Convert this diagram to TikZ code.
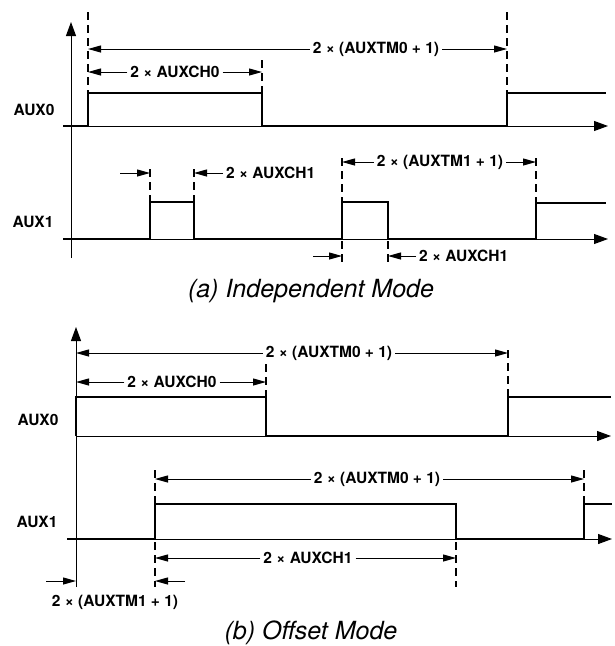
\documentclass[tikz,border=0pt]{standalone}
\usepackage{fontspec}
\setmainfont{TeX Gyre Heros}
\usetikzlibrary{arrows.meta}
\begin{document}
\begin{tikzpicture}[x=1pt,y=-1pt,
  axisln/.style={line width=1pt,-{Triangle[length=14pt,width=10pt]}},
  sig/.style={line width=2.7pt,line join=miter,line cap=butt},
  dashln/.style={line width=1.4pt,dash pattern=on 8pt off 5pt},
  dim/.style={line width=1pt,-{Triangle[length=13pt,width=7pt]}},
  lbl/.style={font=\bfseries\fontsize{15.5}{18}\selectfont,inner sep=3pt},
  signame/.style={font=\bfseries\fontsize{15.5}{18}\selectfont,inner sep=0pt},
  capt/.style={font=\itshape\fontsize{25}{30}\selectfont,inner sep=0pt}]
\useasboundingbox (0,0) rectangle (615,646);

% ================= (a) Independent Mode =================
\draw[axisln] (71,258) -- (71,22);
\draw[axisln] (63,126) -- (608,126);
\draw[axisln] (63,239) -- (608,239);

\node[signame] (aA0) at (34,110) {AUX0};
\node[signame] (aA1) at (33,222) {AUX1};

\draw[sig] (63,126) -- (88,126) -- (88,93) -- (262,93) -- (262,126) -- (507,126) -- (507,93) -- (606,93);
\draw[sig] (63,239) -- (150,239) -- (150,202) -- (194,202) -- (194,239) -- (342,239) -- (342,202) -- (388,202) -- (388,239) -- (536,239) -- (536,203) -- (606,203);

\draw[dashln] (88,12) -- (88,93);
\draw[dashln] (262,60) -- (262,93);
\draw[dashln] (507,12) -- (507,93);
\draw[dashln] (150,169) -- (150,202);
\draw[dashln] (194,169) -- (194,202);
\draw[dashln] (342,158) -- (342,202);
\draw[dashln] (536,158) -- (536,202);
\draw[dashln] (342,241) -- (342,263);
\draw[dashln] (388,241) -- (388,263);

\coordinate (aL1) at (88,49);  \coordinate (aR1) at (507,49);
\node[lbl] (aTM0) at (376,49) {2 × (AUXTM0 + 1)};
\draw[dim] (aTM0.west) -- (aL1);
\draw[dim] (aTM0.east) -- (aR1);

\coordinate (aL2) at (88,72);  \coordinate (aR2) at (262,72);
\node[lbl] (aCH0) at (175,72) {2 × AUXCH0};
\draw[dim] (aCH0.west) -- (aL2);
\draw[dim] (aCH0.east) -- (aR2);

\coordinate (aS1) at (120,173); \coordinate (aT1) at (150,173);
\draw[dim] (aS1) -- (aT1);
\coordinate (aT2) at (194,173);
\node[lbl,anchor=west] (aCH1a) at (223,173) {2 × AUXCH1};
\draw[dim] (aCH1a.west) -- (aT2);

\coordinate (aL3) at (342,162); \coordinate (aR3) at (536,162);
\node[lbl] (aTM1) at (440,162) {2 × (AUXTM1 + 1)};
\draw[dim] (aTM1.west) -- (aL3);
\draw[dim] (aTM1.east) -- (aR3);

\coordinate (aS4) at (313,256); \coordinate (aT4) at (342,256);
\draw[dim] (aS4) -- (aT4);
\coordinate (aT5) at (388,256);
\node[lbl,anchor=west] (aCH1b) at (416,256) {2 × AUXCH1};
\draw[dim] (aCH1b.west) -- (aT5);

\node[capt] (capa) at (311,291) {(a) Independent Mode};

% ================= (b) Offset Mode =================
\draw[axisln] (76,587) -- (76,327);
\draw[axisln] (76,436) -- (611,436);
\draw[axisln] (67,539) -- (612,539);

\node[signame] (bA0) at (38,420) {AUX0};
\node[signame] (bA1) at (37,522) {AUX1};

\draw[sig] (76,436) -- (76,397) -- (266,397) -- (266,436) -- (508,436) -- (508,397) -- (611,397);
\draw[sig] (67,539) -- (155,539) -- (155,504) -- (456,504) -- (456,539) -- (584,539) -- (584,504) -- (612,504);

\draw[dashln] (266,364) -- (266,397);
\draw[dashln] (508,350) -- (508,397);
\draw[dashln] (155,470) -- (155,504);
\draw[dashln] (584,470) -- (584,504);
\draw[dashln] (155,542) -- (155,587);
\draw[dashln] (456,542) -- (456,587);

\coordinate (bL1) at (76,353); \coordinate (bR1) at (508,353);
\node[lbl] (bTM0) at (329,353) {2 × (AUXTM0 + 1)};
\draw[dim] (bTM0.west) -- (bL1);
\draw[dim] (bTM0.east) -- (bR1);

\coordinate (bL2) at (76,382); \coordinate (bR2) at (266,382);
\node[lbl] (bCH0) at (172,382) {2 × AUXCH0};
\draw[dim] (bCH0.west) -- (bL2);
\draw[dim] (bCH0.east) -- (bR2);

\coordinate (bL3) at (155,479); \coordinate (bR3) at (584,479);
\node[lbl] (bTM0b) at (377,479) {2 × (AUXTM0 + 1)};
\draw[dim] (bTM0b.west) -- (bL3);
\draw[dim] (bTM0b.east) -- (bR3);

\coordinate (bL4) at (155,558); \coordinate (bR4) at (456,558);
\node[lbl] (bCH1) at (308,558) {2 × AUXCH1};
\draw[dim] (bCH1.west) -- (bL4);
\draw[dim] (bCH1.east) -- (bR4);

\coordinate (bS5) at (46,581); \coordinate (bT5) at (76,581);
\draw[dim] (bS5) -- (bT5);
\coordinate (bS6) at (185,581); \coordinate (bT6) at (155,581);
\draw[dim] (bS6) -- (bT6);
\node[lbl] (bTM1) at (115,602) {2 × (AUXTM1 + 1)};

\node[capt] (capb) at (311,633) {(b) Offset Mode};
\end{tikzpicture}
\end{document}
